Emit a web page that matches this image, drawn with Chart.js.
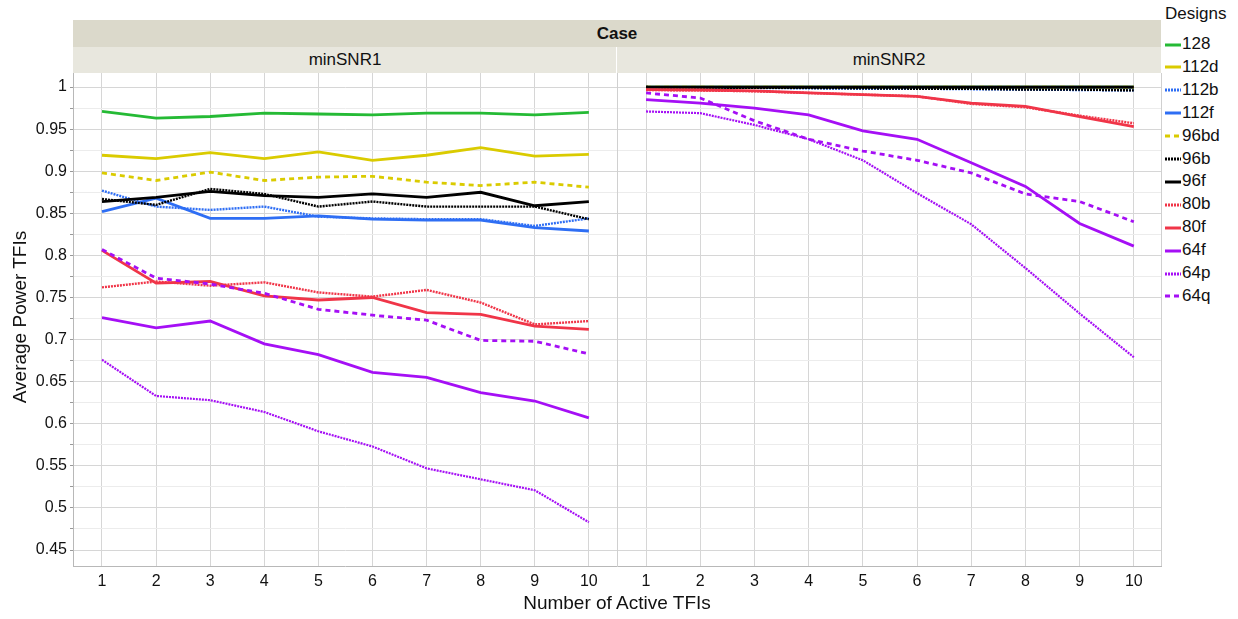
<!DOCTYPE html>
<html>
<head>
<meta charset="utf-8">
<script src="https://cdn.jsdelivr.net/npm/chart.js@4.4.1/dist/chart.umd.min.js"></script>
<style>
  body { margin: 0; background: #fff; font-family: 'Liberation Sans', Arial, sans-serif; color: #111; }
  #wrap { position: relative; width: 1238px; height: 619px; overflow: hidden; }
  .abs { position: absolute; }
  .band1 { left: 73px; top: 20px; width: 1088px; height: 27px; background: #dbd9cb; }
  .band2 { top: 47px; height: 26px; background: #e8e7de; }
  .hdr { text-align: center; font-size: 17px; line-height: 26px; }
  #legend { left: 1165px; top: 4px; font-size: 17px; }
  #legend .item { position: absolute; left: 0; height: 22px; line-height: 22px; white-space: nowrap; }
  #legend svg { vertical-align: middle; margin-right: 1px; }
</style>
</head>
<body>
<div id="wrap">
  <div class="abs band1"></div>
  <div class="abs hdr" style="left:73px;top:20px;width:1088px;font-weight:bold;line-height:27px;">Case</div>
  <div class="abs band2" style="left:73px;width:543px;"></div>
  <div class="abs band2" style="left:617px;width:544px;"></div>
  <div class="abs hdr" style="left:73px;top:47px;width:544px;">minSNR1</div>
  <div class="abs hdr" style="left:617px;top:47px;width:544px;">minSNR2</div>
  <canvas id="c1" class="abs" style="left:0;top:73px;" width="617" height="546"></canvas>
  <canvas id="c2" class="abs" style="left:617px;top:73px;" width="545" height="546"></canvas>
  <div class="abs" style="left:0;top:592px;width:1234px;text-align:center;font-size:19px;">Number of Active TFIs</div>
  <div class="abs" style="left:-80px;top:306px;width:200px;text-align:center;font-size:19px;transform:rotate(-90deg);">Average Power TFIs</div>
  <div id="legend" class="abs"><div style="height:20px;line-height:20px;">Designs</div></div>
</div>
<script>
// x categories and y ticks
const activeTFIs = [1, 2, 3, 4, 5, 6, 7, 8, 9, 10];
const yTicks = [0.45, 0.5, 0.55, 0.6, 0.65, 0.7, 0.75, 0.8, 0.85, 0.9, 0.95, 1];

const designs = ['128', '112d', '112b', '112f', '96bd', '96b', '96f', '80b', '80f', '64f', '64p', '64q'];

// minSNR1
const snr1_128  = [0.971, 0.963, 0.965, 0.969, 0.968, 0.967, 0.969, 0.969, 0.967, 0.970];
const snr1_112d = [0.919, 0.915, 0.922, 0.915, 0.923, 0.913, 0.919, 0.928, 0.918, 0.920];
const snr1_112b = [0.877, 0.858, 0.854, 0.858, 0.846, 0.844, 0.843, 0.843, 0.835, 0.844];
const snr1_112f = [0.852, 0.868, 0.844, 0.844, 0.847, 0.843, 0.842, 0.842, 0.833, 0.829];
const snr1_96bd = [0.898, 0.889, 0.899, 0.889, 0.893, 0.894, 0.887, 0.883, 0.887, 0.881];
const snr1_96b  = [0.867, 0.860, 0.879, 0.873, 0.858, 0.864, 0.858, 0.858, 0.858, 0.843];
const snr1_96f  = [0.864, 0.869, 0.876, 0.871, 0.869, 0.873, 0.869, 0.875, 0.859, 0.864];
const snr1_80b  = [0.762, 0.769, 0.764, 0.768, 0.756, 0.751, 0.759, 0.744, 0.718, 0.722];
const snr1_80f  = [0.806, 0.767, 0.769, 0.752, 0.747, 0.750, 0.732, 0.730, 0.716, 0.712];
const snr1_64f  = [0.726, 0.714, 0.722, 0.695, 0.682, 0.661, 0.655, 0.637, 0.627, 0.607];
const snr1_64p  = [0.676, 0.633, 0.628, 0.614, 0.591, 0.573, 0.547, 0.534, 0.521, 0.483];
const snr1_64q  = [0.807, 0.773, 0.766, 0.755, 0.736, 0.729, 0.723, 0.699, 0.698, 0.683];

// minSNR2
const snr2_128  = [1, 1, 1, 1, 1, 1, 1, 1, 1, 1];
const snr2_112d = [1, 1, 1, 1, 1, 1, 1, 1, 1, 1];
const snr2_112b = [0.9995, 0.999, 0.999, 0.9985, 0.998, 0.998, 0.9975, 0.997, 0.9965, 0.996];
const snr2_112f = [1, 1, 1, 1, 1, 1, 1, 1, 1, 1];
const snr2_96bd = [1, 1, 1, 1, 1, 1, 1, 1, 1, 1];
const snr2_96b  = [1, 0.9995, 0.999, 0.999, 0.9985, 0.998, 0.998, 0.997, 0.997, 0.996];
const snr2_96f  = [1, 1, 1, 1, 1, 1, 1, 1, 1, 1];
const snr2_80b  = [0.9965, 0.996, 0.995, 0.993, 0.991, 0.989, 0.980, 0.976, 0.966, 0.957];
const snr2_80f  = [0.997, 0.9965, 0.9955, 0.993, 0.991, 0.989, 0.981, 0.977, 0.965, 0.953];
const snr2_64f  = [0.985, 0.981, 0.975, 0.967, 0.948, 0.938, 0.910, 0.882, 0.838, 0.811];
const snr2_64p  = [0.971, 0.969, 0.955, 0.938, 0.913, 0.874, 0.837, 0.785, 0.731, 0.679];
const snr2_64q  = [0.993, 0.987, 0.960, 0.938, 0.924, 0.913, 0.898, 0.873, 0.864, 0.840];

const panel1 = [snr1_128, snr1_112d, snr1_112b, snr1_112f, snr1_96bd, snr1_96b, snr1_96f, snr1_80b, snr1_80f, snr1_64f, snr1_64p, snr1_64q];
const panel2 = [snr2_128, snr2_112d, snr2_112b, snr2_112f, snr2_96bd, snr2_96b, snr2_96f, snr2_80b, snr2_80f, snr2_64f, snr2_64p, snr2_64q];

const GREEN = '#25ba35', YELLOW = '#dacb00', BLUE = '#2e6ef4', BLACK = '#000000', RED = '#f03548', PURPLE = '#a50ff5';
const DOT = [2, 1], DASH = [5, 4];
const styles = [
    { color: GREEN,  dash: [],   width: 2.8 },
    { color: YELLOW, dash: [],   width: 2.8 },
    { color: BLUE,   dash: DOT,  width: 2.4 },
    { color: BLUE,   dash: [],   width: 2.8 },
    { color: YELLOW, dash: DASH, width: 2.8 },
    { color: BLACK,  dash: DOT,  width: 2.4 },
    { color: BLACK,  dash: [],   width: 2.8 },
    { color: RED,    dash: DOT,  width: 2.4 },
    { color: RED,    dash: [],   width: 2.8 },
    { color: PURPLE, dash: [],   width: 2.8 },
    { color: PURPLE, dash: DOT,  width: 2.2 },
    { color: PURPLE, dash: DASH, width: 2.8 }
];

const FONT = "'Liberation Sans', Arial, sans-serif";
const Y_MIN = 0.431, Y_MAX = 1.0167;
const X_MIN = 0.464, X_MAX = 10.52;

function isMajor(v) {
    return Math.abs(v * 20 - Math.round(v * 20)) < 1e-6;
}

function buildChart(canvasId, values, showY) {
    const datasets = designs.map(function(name, i) {
        return {
            label: name,
            data: activeTFIs.map(function(x, j) { return { x: x, y: values[i][j] }; }),
            borderColor: styles[i].color,
            borderDash: styles[i].dash,
            borderWidth: styles[i].width,
            pointRadius: 0,
            tension: 0,
            fill: false,
            order: designs.length - i // later series drawn on top
        };
    });

    new Chart(document.getElementById(canvasId), {
        type: 'line',
        data: { datasets: datasets },
        options: {
            responsive: false,
            animation: false,
            devicePixelRatio: 1,
            layout: { padding: 0 },
            plugins: { legend: { display: false }, tooltip: { enabled: false } },
            scales: {
                x: {
                    type: 'linear',
                    min: X_MIN,
                    max: X_MAX,
                    afterBuildTicks: function(s) { s.ticks = activeTFIs.map(function(v) { return { value: v }; }); },
                    afterFit: function(s) { s.height = 53; s.paddingLeft = 0; s.paddingRight = 0; },
                    grid: { color: '#d6d6d6', lineWidth: 1, drawTicks: false },
                    border: { display: true, color: '#b8b8b8', width: 1 },
                    ticks: { padding: 6, color: '#111', font: { family: FONT, size: 16 }, maxRotation: 0 }
                },
                y: {
                    min: Y_MIN,
                    max: Y_MAX,
                    afterBuildTicks: function(s) {
                        const t = [];
                        for (let k = 0; k < 24; k++) t.push({ value: +(0.45 + k * 0.025).toFixed(3) });
                        s.ticks = t.filter(function(o) { return o.value <= Y_MAX; });
                    },
                    afterFit: function(s) { s.width = showY ? 73 : 0; s.paddingTop = 0; s.paddingBottom = 0; },
                    grid: {
                        color: function(c) { return isMajor(c.tick.value) ? '#d6d6d6' : '#ececec'; },
                        lineWidth: 1,
                        drawTicks: showY,
                        tickLength: 3,
                        tickColor: '#999'
                    },
                    border: { display: true, color: showY ? '#b8b8b8' : '#d0d0d0', width: 1 },
                    ticks: {
                        display: showY,
                        padding: 3,
                        color: '#111',
                        font: { family: FONT, size: 16 },
                        callback: function(v) {
                            return isMajor(v) && yTicks.indexOf(+v.toFixed(2)) >= 0 ? String(+v.toFixed(2)) : '';
                        }
                    }
                }
            }
        }
    });
}

buildChart('c1', panel1, true);
buildChart('c2', panel2, false);

// right border of the second panel
(function() {
    const d = document.createElement('div');
    d.className = 'abs';
    d.style.cssText = 'left:1161px;top:73px;width:1px;height:493px;background:#d0d0d0;';
    document.getElementById('wrap').appendChild(d);
})();

// legend
const legend = document.getElementById('legend');
designs.forEach(function(name, i) {
    const st = styles[i];
    const item = document.createElement('div');
    item.className = 'item';
    item.style.top = (29 + i * 22.9) + 'px';
    const dash = st.dash.length ? ' stroke-dasharray="' + st.dash.join(',') + '"' : '';
    item.innerHTML = '<svg width="16" height="4"><line x1="0" y1="2" x2="16" y2="2" stroke="' + st.color +
        '" stroke-width="3"' + dash + '/></svg>' + name;
    legend.appendChild(item);
});
</script>
</body>
</html>
